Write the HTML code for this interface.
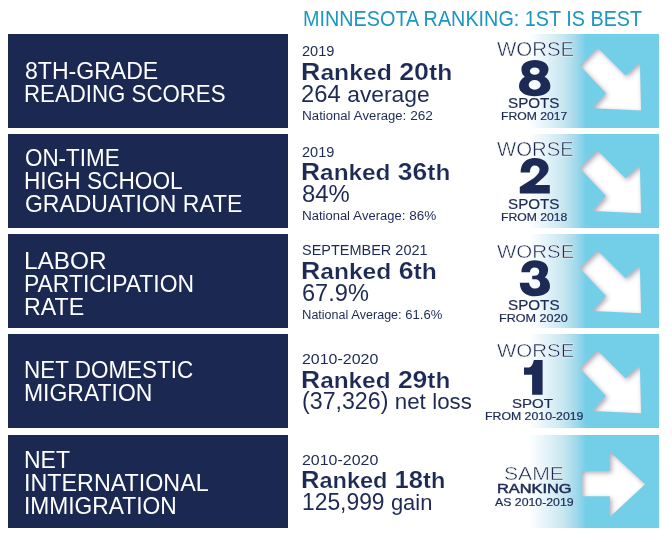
<!DOCTYPE html>
<html><head><meta charset="utf-8"><style>
html,body{margin:0;padding:0;background:#fff;}
body{width:672px;height:542px;position:relative;overflow:hidden;font-family:"Liberation Sans",sans-serif;}
.box{position:absolute;left:8px;width:280px;background:#1b2852;}
.pan{position:absolute;left:490px;width:169px;background:linear-gradient(to right,#fff 0px,#fff 39px,#eef7fb 50px,#c8e7f1 73px,#a2d9eb 86px,#73cfe8 96px,#73cfe8 169px);}
.t{position:absolute;white-space:nowrap;transform-origin:0 0;}
</style></head><body>
<div class="box" style="top:34px;height:94px"></div>
<div class="pan" style="top:34px;height:94px"></div>
<div class="box" style="top:134px;height:94px"></div>
<div class="pan" style="top:134px;height:94px"></div>
<div class="box" style="top:234px;height:94px"></div>
<div class="pan" style="top:234px;height:94px"></div>
<div class="box" style="top:334px;height:94px"></div>
<div class="pan" style="top:334px;height:94px"></div>
<div class="box" style="top:435px;height:93px"></div>
<div class="pan" style="top:435px;height:93px"></div>
<svg width="672" height="542" style="position:absolute;left:0;top:0"><defs><filter id="bl" x="-20%" y="-20%" width="140%" height="140%"><feGaussianBlur stdDeviation="2.5"/></filter></defs><clipPath id="c0"><polygon points="597.7,47.7 625.5,75.5 639.9,62.4 641.1,110.5 592.3,108.2 606.0,93.2 579.8,65.5"/></clipPath><g clip-path="url(#c0)"><polygon points="597.7,47.7 625.5,75.5 639.9,62.4 641.1,110.5 592.3,108.2 606.0,93.2 579.8,65.5" fill="#b3a9b5"/><polygon points="597.7,47.7 625.5,75.5 639.9,62.4 641.1,110.5 592.3,108.2 606.0,93.2 579.8,65.5" fill="#fff" transform="translate(1.9,1.9)" filter="url(#bl)"/></g><clipPath id="c1"><polygon points="597.7,150.5 625.5,178.3 639.9,165.2 641.1,213.3 592.3,211.0 606.0,196.0 579.8,168.3"/></clipPath><g clip-path="url(#c1)"><polygon points="597.7,150.5 625.5,178.3 639.9,165.2 641.1,213.3 592.3,211.0 606.0,196.0 579.8,168.3" fill="#b3a9b5"/><polygon points="597.7,150.5 625.5,178.3 639.9,165.2 641.1,213.3 592.3,211.0 606.0,196.0 579.8,168.3" fill="#fff" transform="translate(1.9,1.9)" filter="url(#bl)"/></g><clipPath id="c2"><polygon points="597.7,250.5 625.5,278.3 639.9,265.2 641.1,313.3 592.3,311.0 606.0,296.0 579.8,268.3"/></clipPath><g clip-path="url(#c2)"><polygon points="597.7,250.5 625.5,278.3 639.9,265.2 641.1,313.3 592.3,311.0 606.0,296.0 579.8,268.3" fill="#b3a9b5"/><polygon points="597.7,250.5 625.5,278.3 639.9,265.2 641.1,313.3 592.3,311.0 606.0,296.0 579.8,268.3" fill="#fff" transform="translate(1.9,1.9)" filter="url(#bl)"/></g><clipPath id="c3"><polygon points="597.7,350.5 625.5,378.3 639.9,365.2 641.1,413.3 592.3,411.0 606.0,396.0 579.8,368.3"/></clipPath><g clip-path="url(#c3)"><polygon points="597.7,350.5 625.5,378.3 639.9,365.2 641.1,413.3 592.3,411.0 606.0,396.0 579.8,368.3" fill="#b3a9b5"/><polygon points="597.7,350.5 625.5,378.3 639.9,365.2 641.1,413.3 592.3,411.0 606.0,396.0 579.8,368.3" fill="#fff" transform="translate(1.9,1.9)" filter="url(#bl)"/></g><clipPath id="c4"><polygon points="582.1,471.0 609.8,471.0 609.8,451.4 645.1,484.2 609.8,517.0 609.8,496.3 582.1,496.3"/></clipPath><g clip-path="url(#c4)"><polygon points="582.1,471.0 609.8,471.0 609.8,451.4 645.1,484.2 609.8,517.0 609.8,496.3 582.1,496.3" fill="#b3a9b5"/><polygon points="582.1,471.0 609.8,471.0 609.8,451.4 645.1,484.2 609.8,517.0 609.8,496.3 582.1,496.3" fill="#fff" transform="translate(1.9,1.9)" filter="url(#bl)"/></g><path d="M534.9 60.0C542.6 60.0 548.5 63.8 548.5 69.0C548.5 72.3 547.0 75.0 544.6 76.7C548.3 78.6 550.4 82.0 550.4 86.3C550.4 92.4 543.8 96.3 534.7 96.3C525.6 96.3 519.0 92.4 519.0 86.3C519.0 82.0 521.1 78.6 524.8 76.7C522.4 75.0 521.4 72.3 521.4 69.0C521.4 63.8 527.2 60.0 534.9 60.0ZM529.85 71.1A4.9 3.6 0 1 0 539.65 71.1A4.9 3.6 0 1 0 529.85 71.1ZM528.7 84.85A6.0 4.9 0 1 0 540.7 84.85A6.0 4.9 0 1 0 528.7 84.85Z" fill="#1d2a55" fill-rule="evenodd"/><path d="M520.6 172.6L529.9 172.6C530.0 168.0 532.0 165.6 534.6 165.6C537.6 165.6 539.6 167.3 539.6 169.8C539.6 172.5 537.5 175.0 534.0 178.0L519.8 187.0L519.8 193.5L549.8 193.5L549.8 185.0L535.0 185.0L543.5 177.5C546.8 174.5 548.6 172.0 548.6 168.5C548.6 162.0 542.8 157.9 534.8 157.9C526.5 157.9 520.6 163.0 520.6 172.6Z" fill="#1d2a55" fill-rule="evenodd"/><path d="M521.4 272.3C521.4 264.5 527.5 260.3 534.8 260.3C542.5 260.3 548.1 264.0 548.1 269.5C548.1 273.0 546.8 275.8 544.8 277.3C548.3 279.0 550.0 282.3 550.0 286.3C550.0 292.5 543.5 296.3 535.0 296.3C526.5 296.3 519.8 292.0 519.8 282.7L529.1 282.7C529.5 286.5 532.0 288.6 535.0 288.6C538.3 288.6 540.2 286.8 540.2 284.0C540.2 281.0 538.0 279.3 535.0 279.3L532.2 279.3L532.2 275.8L534.5 275.8C537.3 275.8 539.2 274.2 539.2 271.5C539.2 269.0 537.3 267.6 534.6 267.6C532.0 267.6 530.0 269.5 529.9 272.3Z" fill="#1d2a55" fill-rule="evenodd"/><path d="M524.0 367.6L529.0 367.6Q532.6 366.8 533.8 360.0L542.6 360.0L542.6 394.8L532.1 394.8L532.1 374.8L524.0 374.8Z" fill="#1d2a55" fill-rule="evenodd"/></svg>
<div class="t" style="left:303.25px;top:8.89px;font-size:21.33px;line-height:21.33px;font-weight:normal;color:#1c96c2;transform:scaleX(0.9281);">MINNESOTA RANKING: 1ST IS BEST</div>
<div class="t" style="left:25.08px;top:58.95px;font-size:24.18px;line-height:24.18px;font-weight:normal;color:#ffffff;transform:scaleX(0.9539);">8TH-GRADE</div>
<div class="t" style="left:24.06px;top:81.87px;font-size:24.04px;line-height:24.04px;font-weight:normal;color:#ffffff;transform:scaleX(0.9260);">READING SCORES</div>
<div class="t" style="left:24.75px;top:145.95px;font-size:24.18px;line-height:24.18px;font-weight:normal;color:#ffffff;transform:scaleX(0.9267);">ON-TIME</div>
<div class="t" style="left:24.03px;top:168.95px;font-size:24.18px;line-height:24.18px;font-weight:normal;color:#ffffff;transform:scaleX(0.9372);">HIGH SCHOOL</div>
<div class="t" style="left:24.72px;top:192.05px;font-size:24.18px;line-height:24.18px;font-weight:normal;color:#ffffff;transform:scaleX(0.9503);">GRADUATION RATE</div>
<div class="t" style="left:23.90px;top:248.75px;font-size:24.18px;line-height:24.18px;font-weight:normal;color:#ffffff;transform:scaleX(1.0071);">LABOR</div>
<div class="t" style="left:24.01px;top:271.75px;font-size:24.18px;line-height:24.18px;font-weight:normal;color:#ffffff;transform:scaleX(0.9471);">PARTICIPATION</div>
<div class="t" style="left:23.99px;top:294.75px;font-size:24.18px;line-height:24.18px;font-weight:normal;color:#ffffff;transform:scaleX(0.9601);">RATE</div>
<div class="t" style="left:24.05px;top:358.05px;font-size:24.18px;line-height:24.18px;font-weight:normal;color:#ffffff;transform:scaleX(0.9288);">NET DOMESTIC</div>
<div class="t" style="left:24.01px;top:381.05px;font-size:24.18px;line-height:24.18px;font-weight:normal;color:#ffffff;transform:scaleX(0.9494);">MIGRATION</div>
<div class="t" style="left:24.00px;top:447.97px;font-size:24.04px;line-height:24.04px;font-weight:normal;color:#ffffff;transform:scaleX(0.9567);">NET</div>
<div class="t" style="left:23.98px;top:470.97px;font-size:24.04px;line-height:24.04px;font-weight:normal;color:#ffffff;transform:scaleX(0.9694);">INTERNATIONAL</div>
<div class="t" style="left:24.02px;top:493.97px;font-size:24.04px;line-height:24.04px;font-weight:normal;color:#ffffff;transform:scaleX(0.9480);">IMMIGRATION</div>
<div class="t" style="left:302.22px;top:44.47px;font-size:14.22px;line-height:14.22px;font-weight:normal;color:#1d2a55;transform:scaleX(1.0232);">2019</div>
<div class="t er" style="left:301.06px;top:59.99px;font-size:23.89px;line-height:23.89px;font-weight:bold;color:#1d2a55;transform:scaleX(1.1235);-webkit-text-stroke:0.2px #ffffff;">R<span style="font-size:0.92em">anked</span> 20<span style="font-size:0.92em">th</span></div>
<div class="t" style="left:301.09px;top:82.19px;font-size:23.89px;line-height:23.89px;font-weight:normal;color:#1d2a55;transform:scaleX(0.9949);">264 <span style="font-size:0.96em">average</span></div>
<div class="t" style="left:301.73px;top:109.55px;font-size:12.94px;line-height:12.94px;font-weight:normal;color:#1d2a55;transform:scaleX(1.0547);">N<span style="font-size:0.96em">ational</span> A<span style="font-size:0.96em">verage</span>: 262</div>
<div class="t" style="left:302.22px;top:145.25px;font-size:14.36px;line-height:14.36px;font-weight:normal;color:#1d2a55;transform:scaleX(1.0130);">2019</div>
<div class="t er" style="left:301.09px;top:159.97px;font-size:24.04px;line-height:24.04px;font-weight:bold;color:#1d2a55;transform:scaleX(1.1014);-webkit-text-stroke:0.2px #ffffff;">R<span style="font-size:0.92em">anked</span> 36<span style="font-size:0.92em">th</span></div>
<div class="t" style="left:301.75px;top:182.05px;font-size:24.18px;line-height:24.18px;font-weight:normal;color:#1d2a55;transform:scaleX(0.9869);">84%</div>
<div class="t" style="left:301.74px;top:209.67px;font-size:12.80px;line-height:12.80px;font-weight:normal;color:#1d2a55;transform:scaleX(1.0567);">N<span style="font-size:0.96em">ational</span> A<span style="font-size:0.96em">verage</span>: 86%</div>
<div class="t" style="left:302.11px;top:243.49px;font-size:14.08px;line-height:14.08px;font-weight:normal;color:#1d2a55;transform:scaleX(1.0285);">SEPTEMBER 2021</div>
<div class="t er" style="left:301.07px;top:259.21px;font-size:23.75px;line-height:23.75px;font-weight:bold;color:#1d2a55;transform:scaleX(1.1242);-webkit-text-stroke:0.2px #ffffff;">R<span style="font-size:0.92em">anked</span> 6<span style="font-size:0.92em">th</span></div>
<div class="t" style="left:301.69px;top:281.39px;font-size:23.89px;line-height:23.89px;font-weight:normal;color:#1d2a55;transform:scaleX(0.9876);">67.9%</div>
<div class="t" style="left:301.78px;top:308.81px;font-size:12.52px;line-height:12.52px;font-weight:normal;color:#1d2a55;transform:scaleX(1.0413);">N<span style="font-size:0.96em">ational</span> A<span style="font-size:0.96em">verage</span>: 61.6%</div>
<div class="t" style="left:302.35px;top:352.47px;font-size:14.22px;line-height:14.22px;font-weight:normal;color:#1d2a55;transform:scaleX(1.1219);">2010-2020</div>
<div class="t er" style="left:301.08px;top:368.21px;font-size:23.75px;line-height:23.75px;font-weight:bold;color:#1d2a55;transform:scaleX(1.1150);-webkit-text-stroke:0.2px #ffffff;">R<span style="font-size:0.92em">anked</span> 29<span style="font-size:0.92em">th</span></div>
<div class="t" style="left:301.81px;top:389.19px;font-size:23.89px;line-height:23.89px;font-weight:normal;color:#1d2a55;transform:scaleX(0.9716);">(37,326) <span style="font-size:0.96em">net</span> <span style="font-size:0.96em">loss</span></div>
<div class="t" style="left:302.35px;top:453.49px;font-size:14.08px;line-height:14.08px;font-weight:normal;color:#1d2a55;transform:scaleX(1.1332);">2010-2020</div>
<div class="t er" style="left:301.14px;top:469.15px;font-size:23.61px;line-height:23.61px;font-weight:bold;color:#1d2a55;transform:scaleX(1.0835);-webkit-text-stroke:0.2px #ffffff;">R<span style="font-size:0.92em">anked</span> 18<span style="font-size:0.92em">th</span></div>
<div class="t" style="left:302.07px;top:489.97px;font-size:23.89px;line-height:23.89px;font-weight:normal;color:#1d2a55;transform:scaleX(0.9563);">125,999 <span style="font-size:0.96em">gain</span></div>
<div class="t er" style="left:497.02px;top:39.56px;font-size:19.91px;line-height:19.91px;font-weight:normal;color:#1d2a55;transform:scaleX(1.0274);-webkit-text-stroke:0.45px #ffffff;">WORSE</div>
<div class="t" style="left:508.33px;top:95.89px;font-size:14.51px;line-height:14.51px;font-weight:normal;color:#1d2a55;transform:scaleX(1.0476);-webkit-text-stroke:0.2px #1d2a55;">SPOTS</div>
<div class="t" style="left:501.25px;top:110.17px;font-size:11.66px;line-height:11.66px;font-weight:normal;color:#1d2a55;transform:scaleX(1.0426);-webkit-text-stroke:0.2px #1d2a55;">FROM 2017</div>
<div class="t er" style="left:496.84px;top:139.50px;font-size:19.63px;line-height:19.63px;font-weight:normal;color:#1d2a55;transform:scaleX(1.0360);-webkit-text-stroke:0.45px #ffffff;">WORSE</div>
<div class="t" style="left:508.33px;top:196.71px;font-size:14.51px;line-height:14.51px;font-weight:normal;color:#1d2a55;transform:scaleX(1.0476);-webkit-text-stroke:0.2px #1d2a55;">SPOTS</div>
<div class="t" style="left:501.15px;top:211.87px;font-size:11.38px;line-height:11.38px;font-weight:normal;color:#1d2a55;transform:scaleX(1.0703);-webkit-text-stroke:0.2px #1d2a55;">FROM 2018</div>
<div class="t er" style="left:496.84px;top:242.58px;font-size:18.35px;line-height:18.35px;font-weight:normal;color:#1d2a55;transform:scaleX(1.1176);-webkit-text-stroke:0.45px #ffffff;">WORSE</div>
<div class="t" style="left:508.33px;top:298.67px;font-size:13.80px;line-height:13.80px;font-weight:normal;color:#1d2a55;transform:scaleX(1.1016);-webkit-text-stroke:0.2px #1d2a55;">SPOTS</div>
<div class="t" style="left:499.03px;top:311.63px;font-size:11.66px;line-height:11.66px;font-weight:normal;color:#1d2a55;transform:scaleX(1.0813);-webkit-text-stroke:0.2px #1d2a55;">FROM 2020</div>
<div class="t er" style="left:497.02px;top:341.64px;font-size:18.63px;line-height:18.63px;font-weight:normal;color:#1d2a55;transform:scaleX(1.1005);-webkit-text-stroke:0.45px #ffffff;">WORSE</div>
<div class="t" style="left:511.81px;top:396.79px;font-size:13.51px;line-height:13.51px;font-weight:normal;color:#1d2a55;transform:scaleX(1.1159);-webkit-text-stroke:0.2px #1d2a55;">SPOT</div>
<div class="t" style="left:484.84px;top:411.32px;font-size:11.09px;line-height:11.09px;font-weight:normal;color:#1d2a55;transform:scaleX(1.1100);-webkit-text-stroke:0.2px #1d2a55;">FROM 2010-2019</div>
<div class="t er" style="left:504.14px;top:464.80px;font-size:18.77px;line-height:18.77px;font-weight:normal;color:#1d2a55;transform:scaleX(1.1280);-webkit-text-stroke:0.45px #ffffff;">SAME</div>
<div class="t" style="left:496.77px;top:482.38px;font-size:13.23px;line-height:13.23px;font-weight:normal;color:#1d2a55;transform:scaleX(1.2376);-webkit-text-stroke:0.5px #1d2a55;">RANKING</div>
<div class="t" style="left:495.30px;top:496.64px;font-size:10.95px;line-height:10.95px;font-weight:normal;color:#1d2a55;transform:scaleX(1.1242);-webkit-text-stroke:0.2px #1d2a55;">AS 2010-2019</div>
</body></html>
